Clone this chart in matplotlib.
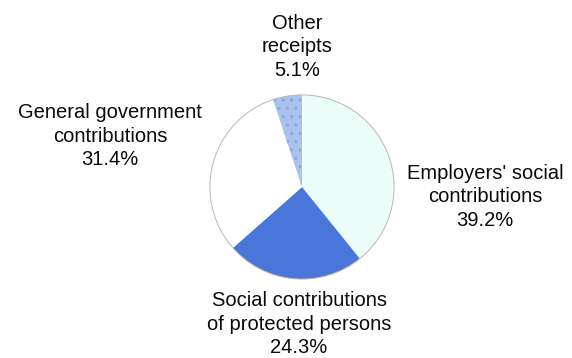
import matplotlib.pyplot as plt

# share of receipts, clockwise from 12 o'clock
labels = ["Employers' social\ncontributions", "Social contributions\nof protected persons",
          "General government\ncontributions", "Other\nreceipts"]
shares = [39.2, 24.3, 31.4, 5.1]
colors = ["#ecfcf9", "#4a76da", "#ffffff", "#a9c3ee"]

W, H = 572, 358
fig = plt.figure(figsize=(W / 100, H / 100), dpi=100)
fig.patch.set_facecolor("white")

# pie centre and radius in pixels (y from top)
cx, cy, r = 302, 187, 93
ax = fig.add_axes([(cx - r) / W, (H - cy - r) / H, 2 * r / W, 2 * r / H])
wedges, _ = ax.pie(shares, colors=colors, startangle=90, counterclock=False,
                   radius=1, wedgeprops=dict(edgecolor="none"))
wedges[3].set_hatch("..")
wedges[3].set_edgecolor("#8aa6dc")
wedges[3].set_linewidth(0)
outline = plt.Circle((0, 0), 1, fill=False, edgecolor="#b8b8b8", lw=0.7)
ax.add_patch(outline)
ax.set_xlim(-1.01, 1.01)
ax.set_ylim(-1.01, 1.01)
ax.set_aspect("equal")
ax.axis("off")

# label centres in pixels (x, y from top)
pos = [(485, 197), (299, 324), (110, 136), (297, 47)]
for lab, val, (x, y) in zip(labels, shares, pos):
    fig.text(x / W, 1 - y / H, "%s\n%.1f%%" % (lab, val), ha="center", va="center",
             fontsize=14.5, family="Liberation Sans", color="#0a0a0a", linespacing=1.3)

fig.savefig("out.png", dpi=100)
